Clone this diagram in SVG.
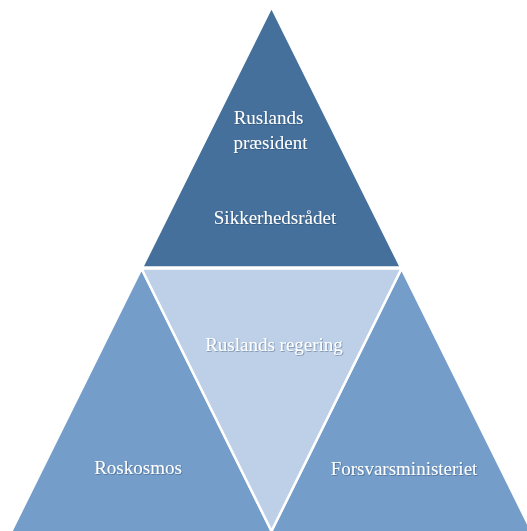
<svg xmlns="http://www.w3.org/2000/svg" width="527" height="531" viewBox="0 0 527 531">
  <defs>
    <style>
      .tri { stroke: #ffffff; stroke-width: 2.5; stroke-linejoin: miter; }
      .dark { fill: #45709B; }
      .light { fill: #BDD0E8; }
      .mid { fill: #749DCA; }
      .lbl { font-family: "Liberation Serif", "Times New Roman", serif; font-size: 19px; fill: #ffffff; text-anchor: middle; filter: url(#sh); }
    </style>
    <filter id="sh" x="-10%" y="-30%" width="120%" height="160%">
      <feDropShadow dx="0.8" dy="0.8" stdDeviation="0.4" flood-color="#1f3550" flood-opacity="0.45"/>
    </filter>
  </defs>
  <rect width="527" height="531" fill="#ffffff"/>
  <g id="connectors"></g>
  <g id="node-roskosmos">
    <polygon class="tri mid" points="141.5,268.5 9.5,535 273.5,535"/>
    <text class="lbl" x="138" y="474">Roskosmos</text>
  </g>
  <g id="node-forsvarsministeriet">
    <polygon class="tri mid" points="401.5,268.5 269.5,535 533.5,535"/>
    <text class="lbl" x="404" y="475">Forsvarsministeriet</text>
  </g>
  <g id="node-regering">
    <polygon class="tri light" points="141.5,268.5 401.5,268.5 271.5,531"/>
    <text class="lbl" x="274" y="351">Ruslands regering</text>
  </g>
  <g id="node-praesident">
    <polygon class="tri dark" points="271.5,7 142,267.5 401,267.5"/>
    <text class="lbl" x="268.5" y="124">Ruslands</text>
    <text class="lbl" x="270.5" y="149">præsident</text>
    <text class="lbl" x="275" y="224">Sikkerhedsrådet</text>
  </g>
</svg>
